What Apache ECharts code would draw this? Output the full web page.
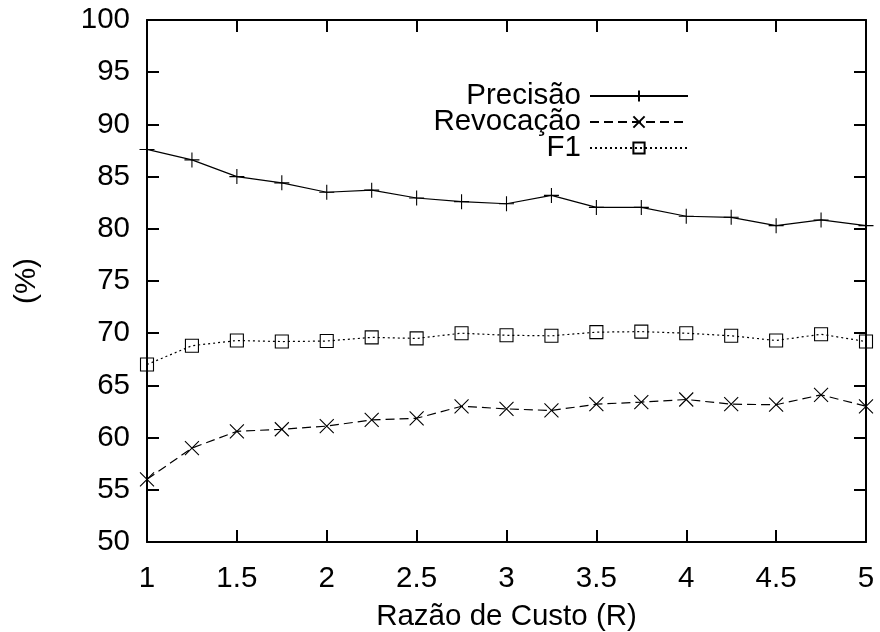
<!DOCTYPE html>
<html>
<head>
<meta charset="utf-8">
<script src="https://cdn.jsdelivr.net/npm/echarts@6/dist/echarts.min.js"></script>
<style>html,body{margin:0;padding:0;background:#fff}#c{width:880px;height:632px}</style>
</head>
<body>
<div id="c"></div>
<script>
var razao = [1, 1.25, 1.5, 1.75, 2, 2.25, 2.5, 2.75, 3, 3.25, 3.5, 3.75, 4, 4.25, 4.5, 4.75, 5];
var precisao = [87.6, 86.6, 85.0, 84.4, 83.5, 83.7, 82.95, 82.6, 82.4, 83.2, 82.05, 82.05, 81.2, 81.1, 80.3, 80.85, 80.3];
var revocacao = [56.0, 59.0, 60.6, 60.8, 61.1, 61.7, 61.85, 63.0, 62.75, 62.6, 63.2, 63.4, 63.65, 63.2, 63.15, 64.1, 63.0];
var f1 = [67.0, 68.8, 69.3, 69.2, 69.25, 69.6, 69.5, 70.0, 69.8, 69.75, 70.1, 70.15, 70.0, 69.75, 69.3, 69.9, 69.2];
var seriesNames = ['Precisão', 'Revocação', 'F1'];
var xTitle = 'Razão de Custo (R)';
var yTitle = '(%)';

function pairs(ys) { return razao.map(function (x, i) { return [x, ys[i]]; }); }

var FONT = '"Liberation Sans", Arial, Helvetica, sans-serif';
var FS = 29.5;
var chart = echarts.init(document.getElementById('c'), null, {renderer: 'canvas'});
var axisCommon = {
  axisLine: {show: true, lineStyle: {color: '#000', width: 2}},
  axisTick: {show: true, inside: true, length: 12, lineStyle: {color: '#000', width: 2}},
  splitLine: {show: false}
};
var plus = 'path://M0,7H14M7,0V14';
var cross = 'path://M0,0L12,12M12,0L0,12';
chart.setOption({
  animation: false,
  backgroundColor: '#fff',
  grid: {left: 147, right: 14, top: 20, bottom: 90, containLabel: false, outerBoundsMode: 'none'},
  legend: {
    orient: 'vertical', align: 'right', right: 186, top: 76,
    itemWidth: 98, itemHeight: 14, itemGap: -4,
    textStyle: {fontFamily: FONT, fontSize: FS, color: '#000', lineHeight: 26.5, padding: [0, 4, 0, 0]},
    data: seriesNames
  },
  xAxis: [
    Object.assign({type: 'value', min: 1, max: 5, interval: 0.5, position: 'bottom',
      name: xTitle, nameLocation: 'middle', nameGap: 60,
      nameTextStyle: {fontFamily: FONT, fontSize: FS, color: '#000'},
      axisLabel: {fontFamily: FONT, fontSize: FS, color: '#000', margin: 22,
        formatter: function (v) { return String(v); }}}, axisCommon),
    Object.assign({type: 'value', min: 1, max: 5, interval: 0.5, position: 'top',
      axisLabel: {show: false}}, axisCommon)
  ],
  yAxis: [
    Object.assign({type: 'value', min: 50, max: 100, interval: 5, position: 'left',
      name: yTitle, nameLocation: 'middle', nameGap: 105, nameRotate: 90,
      nameTextStyle: {fontFamily: FONT, fontSize: FS, color: '#000'},
      axisLabel: {fontFamily: FONT, fontSize: FS, color: '#000', margin: 17}}, axisCommon),
    Object.assign({type: 'value', min: 50, max: 100, interval: 5, position: 'right',
      axisLabel: {show: false}}, axisCommon)
  ],
  series: [
    {name: seriesNames[0], type: 'line', data: pairs(precisao),
      symbol: plus, symbolSize: 15, showAllSymbol: true,
      lineStyle: {color: '#000', width: 1.2, type: 'solid'},
      itemStyle: {color: 'none', borderColor: '#000', borderWidth: 1.1}},
    {name: seriesNames[1], type: 'line', data: pairs(revocacao),
      symbol: cross, symbolSize: 14, showAllSymbol: true,
      lineStyle: {color: '#000', width: 1.2, type: [9, 5]},
      itemStyle: {color: 'none', borderColor: '#000', borderWidth: 1.1}},
    {name: seriesNames[2], type: 'line', data: pairs(f1),
      symbol: 'rect', symbolSize: 13, showAllSymbol: true,
      lineStyle: {color: '#000', width: 1.2, type: [2, 3]},
      itemStyle: {color: 'none', borderColor: '#000', borderWidth: 1.1}}
  ]
});
</script>
</body>
</html>
